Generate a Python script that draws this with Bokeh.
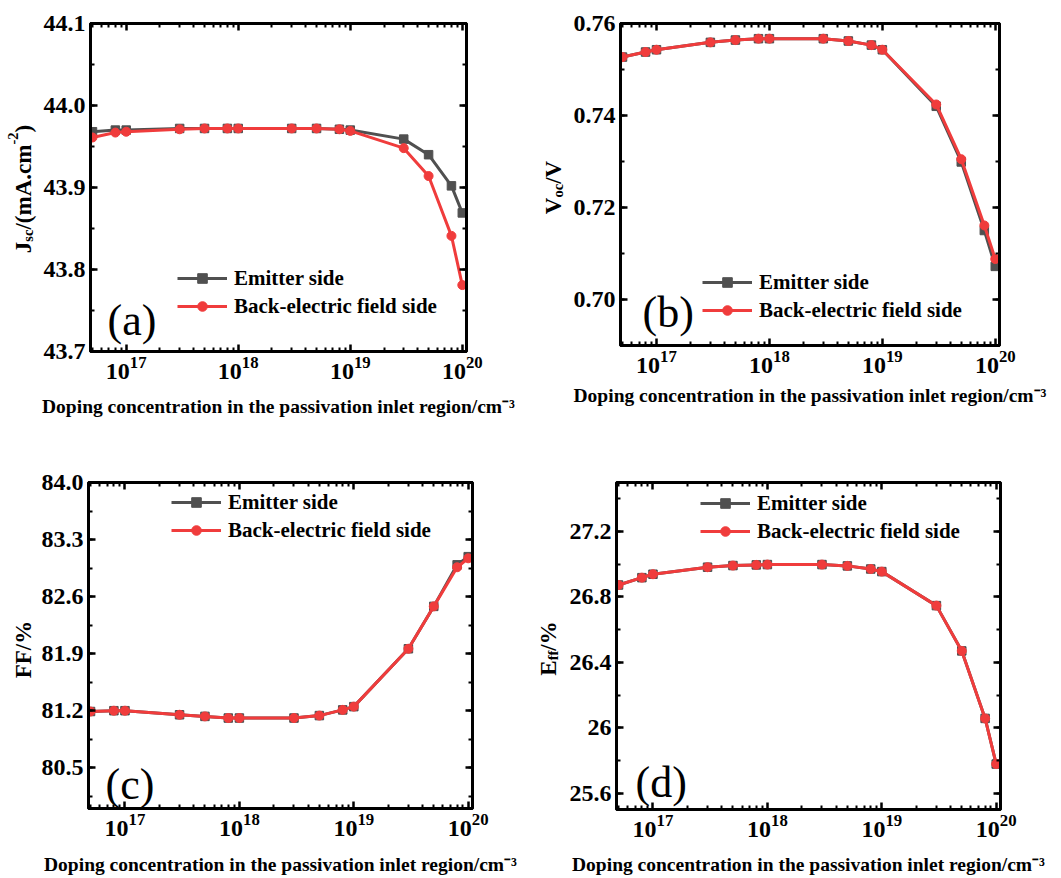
import math

from bokeh.embed import file_html
from bokeh.layouts import column, row
from bokeh.models import (CustomJSTickFormatter, FixedTicker, Label, Legend, LegendItem,
                          LinearAxis, LogAxis, Plot, PrintfTickFormatter, Range1d,
                          SingleIntervalTicker)
from bokeh.plotting import figure
from bokeh.resources import INLINE

# Doping concentration in the passivation inlet region (cm^-3)
doping = [5e16, 8e16, 1e17, 3e17, 5e17, 8e17, 1e18, 3e18, 5e18, 8e18,
          1e19, 3e19, 5e19, 8e19, 1e20]

series_labels = ["Emitter side", "Back-electric field side"]

# Short-circuit current density, mA/cm^2
jsc_emitter = [43.968, 43.970, 43.970, 43.972, 43.972, 43.972, 43.972, 43.972,
               43.972, 43.971, 43.970, 43.959, 43.940, 43.902, 43.869]
jsc_back = [43.961, 43.967, 43.968, 43.971, 43.972, 43.972, 43.972, 43.972,
            43.972, 43.971, 43.969, 43.948, 43.914, 43.841, 43.781]

# Open-circuit voltage, V
voc_emitter = [0.7527, 0.7538, 0.7543, 0.7559, 0.7564, 0.7567, 0.7567, 0.7567,
               0.7562, 0.7553, 0.7543, 0.7420, 0.7299, 0.7150, 0.7072]
voc_back = [0.7527, 0.7538, 0.7543, 0.7559, 0.7564, 0.7567, 0.7567, 0.7567,
            0.7562, 0.7553, 0.7543, 0.7424, 0.7305, 0.7161, 0.7088]

# Fill factor, %
ff_emitter = [81.19, 81.20, 81.20, 81.15, 81.13, 81.11, 81.11, 81.11,
              81.14, 81.21, 81.25, 81.96, 82.48, 82.99, 83.09]
ff_back = [81.19, 81.20, 81.20, 81.15, 81.13, 81.11, 81.11, 81.11,
           81.14, 81.21, 81.25, 81.96, 82.48, 82.96, 83.07]

# Efficiency, %
eff_emitter = [26.873, 26.918, 26.939, 26.982, 26.992, 26.996, 26.998, 26.998,
               26.990, 26.971, 26.955, 26.747, 26.470, 26.057, 25.778]
eff_back = [26.873, 26.918, 26.939, 26.982, 26.992, 26.996, 26.998, 26.998,
            26.990, 26.971, 26.955, 26.747, 26.470, 26.057, 25.778]

x_decades = [1e17, 1e18, 1e19, 1e20]
x_minor = [m * 10.0 ** e for e in range(16, 20) for m in range(2, 10)]
x_title = "Doping concentration in the passivation inlet region/cm\u207b\u00b3"

FONT = "Liberation Serif"
GRAY = "#505050"
RED = "#f03c3c"
X_LIMITS = (4.8e16, 1.09e20)

# Advance widths of Times-metric bold glyphs (units per em = 1000)
BOLD_W = {"J": 500, "s": 389, "c": 444, "/": 278, "(": 333, ")": 333, "m": 833,
          "A": 722, ".": 250, "-": 333, "2": 500, "V": 722, "o": 500,
          "F": 611, "%": 1000, "E": 667, "f": 333}


def text_w(s, size):
    return sum(BOLD_W[ch] for ch in s) * size / 1000.0


def no_frame_align(p):
    try:
        p.frame_align = False
    except AttributeError:
        pass


def style_axis(ax, labelled):
    ax.axis_line_color = "black"
    ax.axis_line_width = 3
    ax.major_tick_in = 7
    ax.major_tick_out = 0
    ax.major_tick_line_width = 2.5
    ax.major_tick_line_color = "black"
    ax.minor_tick_in = 4
    ax.minor_tick_out = 0
    ax.minor_tick_line_width = 2
    ax.minor_tick_line_color = "black"
    ax.major_label_text_font = FONT
    ax.major_label_text_font_style = "bold"
    ax.major_label_text_color = "black"
    ax.major_label_text_font_size = "24px"
    if not labelled:
        # mirror axis on the opposite side of the frame: ticks only
        ax.formatter = CustomJSTickFormatter(code="return '';")
        ax.major_label_standoff = 0


def title_strip(width, height, parts, x_base, y_center, size=23, small=14.5):
    """Narrow canvas holding a vertical title built from normal/sub/superscript runs."""
    s = Plot(width=width, height=height, title=None, toolbar_location=None,
             output_backend="svg", min_border_left=0, min_border_right=0,
             min_border_top=0, min_border_bottom=0, outline_line_color=None,
             x_range=Range1d(0, 1), y_range=Range1d(0, 1),
             background_fill_color="white", border_fill_color="white")
    no_frame_align(s)
    sizes = [size if k == 0 else small for _, k in parts]
    total = sum(text_w(t, fs) for (t, _), fs in zip(parts, sizes))
    y = y_center - total / 2.0
    for (t, k), fs in zip(parts, sizes):
        dx = {0: 0, -1: 4, 1: -10.5}[k]
        s.add_layout(Label(x=x_base + dx, y=y, x_units="screen", y_units="screen",
                           text=t, angle=math.pi / 2, text_font=FONT,
                           text_font_style="bold", text_font_size=f"{fs}px",
                           text_baseline="alphabetic", text_align="left",
                           text_color="black"))
        y += text_w(t, fs)
    return s


def make_panel(width, height, borders, y_limits, y_ticker, y_formatter,
               emitter, back, tag, tag_pos, legend_pos, xlab_standoff):
    left, right, top, bottom = borders
    p = figure(width=width, height=height, x_axis_type="log",
               x_range=Range1d(*X_LIMITS), y_range=Range1d(*y_limits),
               toolbar_location=None, output_backend="svg",
               min_border_left=left, min_border_right=right,
               min_border_top=top, min_border_bottom=bottom)
    no_frame_align(p)
    p.grid.visible = False
    p.background_fill_color = "white"
    p.border_fill_color = "white"
    p.outline_line_color = "black"
    p.outline_line_width = 3

    x_ticker = FixedTicker(ticks=x_decades, minor_ticks=x_minor)
    bottom_ax = p.xaxis[0]
    bottom_ax.ticker = x_ticker
    style_axis(bottom_ax, True)
    bottom_ax.major_label_standoff = 5
    bottom_ax.axis_label = x_title
    bottom_ax.axis_label_text_font = FONT
    bottom_ax.axis_label_text_font_style = "bold"
    bottom_ax.axis_label_text_font_size = "19.5px"
    bottom_ax.axis_label_text_line_height = 1.0
    bottom_ax.axis_label_text_color = "black"
    bottom_ax.axis_label_standoff = xlab_standoff
    top_ax = LogAxis(ticker=x_ticker)
    style_axis(top_ax, False)
    p.add_layout(top_ax, "above")

    left_ax = p.yaxis[0]
    left_ax.ticker = y_ticker
    left_ax.formatter = y_formatter
    style_axis(left_ax, True)
    left_ax.major_label_standoff = 5
    right_ax = LinearAxis(ticker=y_ticker)
    style_axis(right_ax, False)
    p.add_layout(right_ax, "right")

    lg = p.line(doping, emitter, line_color=GRAY, line_width=3)
    sg = p.scatter(doping, emitter, marker="square", size=8.5,
                   fill_color=GRAY, line_color=GRAY)
    lr = p.line(doping, back, line_color=RED, line_width=3)
    sr = p.scatter(doping, back, marker="circle", size=9,
                   fill_color=RED, line_color=RED)

    legend = Legend(items=[LegendItem(label=series_labels[0], renderers=[lg, sg]),
                           LegendItem(label=series_labels[1], renderers=[lr, sr])],
                    location=legend_pos, glyph_width=50, glyph_height=24,
                    label_height=25, label_standoff=7, spacing=3, padding=0, margin=0,
                    border_line_color=None, background_fill_alpha=0,
                    label_text_font=FONT, label_text_font_style="bold",
                    label_text_font_size="21px", label_text_color="black")
    p.add_layout(legend, "center")

    p.add_layout(Label(x=tag_pos[0], y=tag_pos[1], x_units="screen", y_units="screen",
                       text=tag, text_font=FONT, text_font_size="44px",
                       text_baseline="alphabetic", text_color="black"))
    return p


sa = title_strip(40, 440, [("J", 0), ("sc", -1), ("/(mA.cm", 0), ("-2", 1), (")", 0)],
                 23, 251.5)
pa = make_panel(490, 440, (48, 64, 23, 89), (43.7, 44.1),
                SingleIntervalTicker(interval=0.1, num_minor_ticks=2),
                PrintfTickFormatter(format="%.1f"),
                jsc_emitter, jsc_back, "(a)", (17, 31), (87, 32.5), 14)

sb = title_strip(40, 440, [("V", 0), ("oc", -1), ("/V", 0)], 23, 253)
pb = make_panel(491, 440, (48, 62, 23, 95), (0.69, 0.76),
                SingleIntervalTicker(interval=0.02, num_minor_ticks=2),
                PrintfTickFormatter(format="%.2f"),
                voc_emitter, voc_back, "(b)", (22, 33), (82, 22.5), 9)

sc = title_strip(38, 438, [("FF/%", 0)], 23, 229)
pc = make_panel(492, 438, (48, 58, 42, 70), (80.0, 84.0),
                SingleIntervalTicker(interval=0.7, num_minor_ticks=2),
                PrintfTickFormatter(format="%.1f"),
                ff_emitter, ff_back, "(c)", (17, 24), (83, 265.5), 15)

sd = title_strip(36, 438, [("E", 0), ("ff", -1), ("/%", 0)], 18, 230)
pd = make_panel(495, 438, (48, 61, 42, 69), (25.5, 27.5),
                SingleIntervalTicker(interval=0.4, num_minor_ticks=2),
                CustomJSTickFormatter(code="return String(+tick.toFixed(2));"),
                eff_emitter, eff_back, "(d)", (19, 27), (84, 265.5), 14)

layout = column(row(sa, pa, sb, pb), row(sc, pc, sd, pd))

with open("out.html", "w") as f:
    f.write(file_html(layout, INLINE))
